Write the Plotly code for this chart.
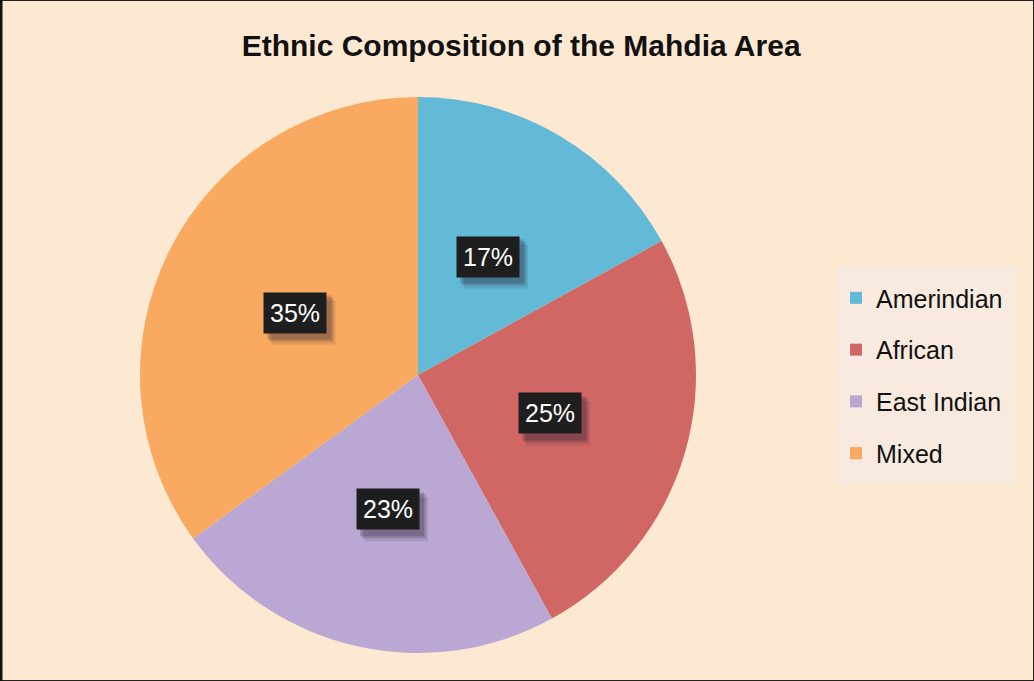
import math
import plotly.graph_objects as go

labels = ["Amerindian", "African", "East Indian", "Mixed"]
values = [17, 25, 23, 35]
colors = ["#62BAD6", "#D06765", "#BAA7D3", "#F9A960"]
title_text = "Ethnic Composition of the Mahdia Area"

W, H = 1034, 681
cx, cy, R = 418, 375, 278  # pixel centre/radius of the pie
dom_x = [(cx - R) / W, (cx + R) / W]
dom_y = [(H - cy - R) / H, (H - cy + R) / H]

fig = go.Figure(go.Pie(
    labels=[f"<span style='font-size:25px;baseline-shift:5px'>{l}&nbsp;</span>" for l in labels],
    values=values,
    marker=dict(colors=colors, line=dict(width=0)),
    sort=False, direction="clockwise", rotation=0,
    textinfo="none", hoverinfo="label+percent",
    domain=dict(x=dom_x, y=dom_y),
))

# percentage labels in dark boxes at slice mid-angles
total = sum(values)
cum = 0
shapes = []
bw, bh = 64, 44  # label box size in px (for the shadow)
for v in values:
    mid = (cum + v / 2) / total * 2 * math.pi
    cum += v
    r = 0.495 * R
    px = cx + r * math.sin(mid)
    py = cy - r * math.cos(mid)
    x = px / W
    y = (H - py) / H
    pct = f"{round(v / total * 100)}%"
    for dx, dy, a in [(8, 10, 0.12), (6, 7, 0.18), (4, 5, 0.2)]:
        shapes.append(dict(type="rect", xref="paper", yref="paper", layer="above",
                           x0=(px - bw / 2 + dx) / W, x1=(px + bw / 2 + dx) / W,
                           y0=(H - (py + bh / 2 + dy)) / H, y1=(H - (py - bh / 2 + dy)) / H,
                           fillcolor=f"rgba(40,30,50,{a})", line=dict(width=0)))
    fig.add_annotation(x=x, y=y, xref="paper", yref="paper",
                       xanchor="center", yanchor="middle",
                       text=pct, showarrow=False,
                       font=dict(family="Liberation Sans", size=25, color="white"),
                       bgcolor="#1E1E1E", borderpad=6)

shapes += [dict(type="rect", xref="paper", yref="paper", x0=0, y0=0, x1=1, y1=1,
                line=dict(color="#222222", width=2)),
           dict(type="line", xref="paper", yref="paper", x0=0, y0=0, x1=0, y1=1,
                line=dict(color="#111111", width=5))]

fig.update_layout(
    width=W, height=H,
    margin=dict(l=0, r=0, t=0, b=0),
    paper_bgcolor="#FDE8D2",
    plot_bgcolor="#FDE8D2",
    title=dict(text=f"<b>{title_text}</b>", x=0.504, xanchor="center",
               y=1 - 45 / H, yanchor="middle",
               font=dict(family="Liberation Sans", size=30, color="#111111")),
    legend=dict(x=836 / W, xanchor="left", y=1 - 267 / H, yanchor="top",
                bgcolor="#F8EADF", font=dict(family="Liberation Sans", size=37.5, color="#111111"),
                borderwidth=0),
    showlegend=True,
    shapes=shapes,
)

fig.write_html("out.html", config={"displayModeBar": False},
               post_script="document.body.style.margin='0';document.body.style.padding='0';")
